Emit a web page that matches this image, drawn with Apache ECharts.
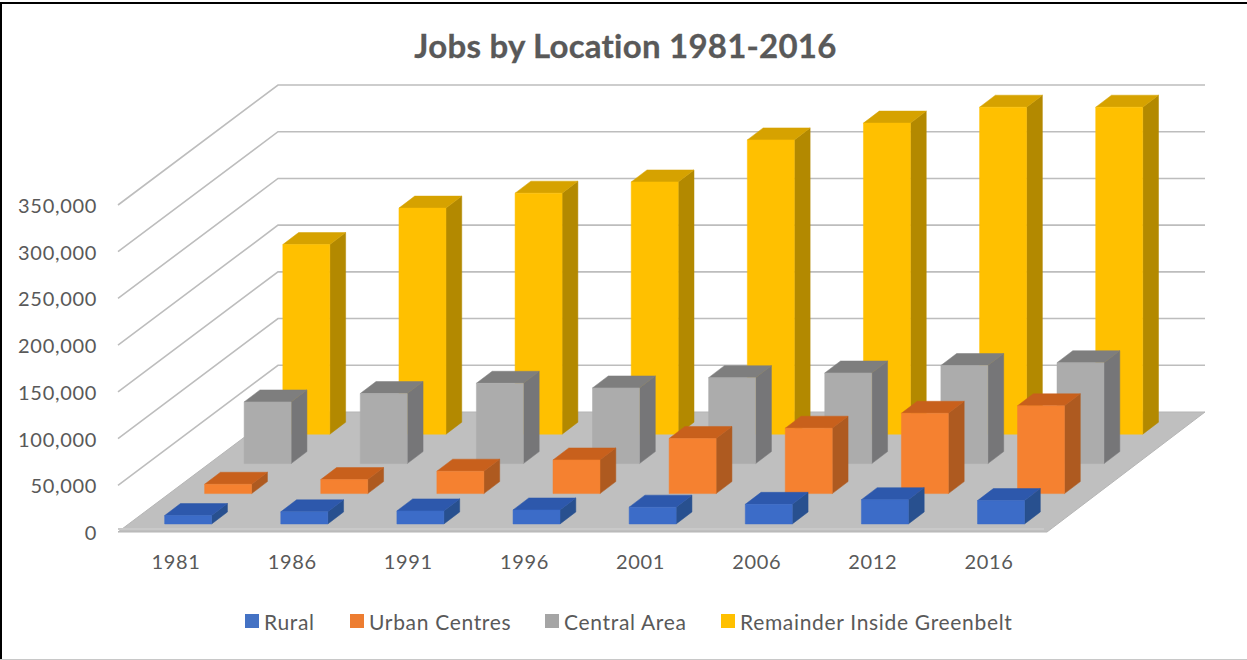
<!DOCTYPE html>
<html>
<head>
<meta charset="utf-8">
<style>
html,body{margin:0;padding:0;background:#fff}
#c{width:1247px;height:660px}
#c text{letter-spacing:.68px;font-variant-ligatures:none}
#c text[style*="bold"]{letter-spacing:.24px}
</style>
<script src="https://cdn.jsdelivr.net/npm/echarts@6/dist/echarts.min.js"></script>
</head>
<body>
<div id="c"></div>
<script>
var categories = ['1981','1986','1991','1996','2001','2006','2012','2016'];
var rural = [9000,13000,14000,15000,18000,21000,26000,25000];
var urbanCentres = [10000,15000,24000,36000,59000,70000,86000,94000];
var centralArea = [66000,75000,86000,81000,92000,97000,105000,108000];
var remainder = [203000,242000,258000,270000,315000,333000,350000,350000];
var yTicks = [0,50000,100000,150000,200000,250000,300000,350000];
var legendNames = ['Rural','Urban Centres','Central Area','Remainder Inside Greenbelt'];
var legendLefts = [240,345,540,716];

var DEPTH_X = 158, DEPTH_Y = 120, BAR_W = 47, BAR_D = 0.1, SHIFT = 1.5;
var FONT = 'Lato, "Open Sans", sans-serif';
var TXT = '#595959';

function pt(p, f){ return [p[0] + DEPTH_X * f, p[1] - DEPTH_Y * f]; }

function barRenderer(front, faces){
  return function(params, api){
    var i = api.value(0), v = api.value(1);
    var b = api.coord([i, 0]), t = api.coord([i, v]);
    var xl = b[0] + SHIFT - BAR_W / 2, xr = xl + BAR_W;
    var fb = pt([xl, b[1]], front), fb2 = pt([xr, b[1]], front);
    var ft = pt([xl, t[1]], front), ft2 = pt([xr, t[1]], front);
    var d = front + BAR_D;
    var bb2 = pt([xr, b[1]], d), bt = pt([xl, t[1]], d), bt2 = pt([xr, t[1]], d);
    function poly(points, fill){ return {type:'polygon', shape:{points:points}, style:{fill:fill, stroke:fill, lineWidth:0.5}}; }
    return {type:'group', children:[
      poly([fb2, bb2, bt2, ft2], faces[2]),
      poly([ft, ft2, bt2, bt], faces[1]),
      poly([fb, fb2, ft2, ft], faces[0])
    ]};
  };
}

function wallRenderer(params, api){
  var v = api.value(1);
  var cs = params.coordSys;
  var x0 = cs.x, x1 = cs.x + cs.width;
  var y = api.coord([0, v])[1];
  if (v === 0) {
    return {type:'group', children:[
      {type:'polygon', shape:{points:[[x0,y],[x1,y],[x1+DEPTH_X,y-DEPTH_Y],[x0+DEPTH_X+2,y-DEPTH_Y]]},
       style:{fill:'#BFBFBF', stroke:'#B5B5B5', lineWidth:1}},
      {type:'line', shape:{x1:x0,y1:y-3,x2:x1-3,y2:y-3}, style:{stroke:'#C9C9C9', lineWidth:2}}
    ]};
  }
  return {type:'polyline', shape:{points:[[x0,y],[x0+DEPTH_X+2,y-DEPTH_Y],[x1+DEPTH_X,y-DEPTH_Y]]},
    style:{fill:'none', stroke:'#BDBDBD', lineWidth:1.6}};
}

function rows(values){ return values.map(function(v,i){ return [i,v]; }); }

var option = {
  animation:false,
  backgroundColor:'#fff',
  title:{text:'Jobs by Location 1981-2016', left:620.5, textAlign:'center', top:23,
    textStyle:{fontFamily:FONT, fontWeight:'bold', fontSize:33, color:TXT, textBorderColor:TXT, textBorderWidth:0.3}},
  legend:legendNames.map(function(n,i){
    return {data:[n], left:legendLefts[i], top:605.5, icon:'rect', itemWidth:14, itemHeight:14,
      textStyle:{fontFamily:FONT, fontSize:21, color:TXT}};
  }),
  grid:{left:118, right:200, top:205, bottom:128},
  xAxis:{type:'category', data:categories, axisLine:{show:false}, axisTick:{show:false},
    axisLabel:{fontFamily:FONT, fontSize:20, color:TXT, margin:19}},
  yAxis:{type:'value', min:0, max:350000, interval:50000, splitLine:{show:false}, axisLine:{show:false}, axisTick:{show:false},
    axisLabel:{fontFamily:FONT, fontSize:20, color:TXT, margin:21,
      formatter:function(v){ return v.toLocaleString('en-US'); }}},
  graphic:[
    {type:'rect', shape:{x:0,y:2,width:1247,height:2}, style:{fill:'#000'}},
    {type:'rect', shape:{x:0,y:2,width:2,height:658}, style:{fill:'#000'}},
    {type:'rect', shape:{x:0,y:659,width:1247,height:1}, style:{fill:'#C8C8C8'}}
  ],
  series:[
    {type:'custom', name:'walls', silent:true, coordinateSystem:'cartesian2d', renderItem:wallRenderer,
     data:yTicks.map(function(v){ return [0,v]; }), encode:{x:0,y:1}, z:1},
    {type:'custom', name:'Remainder Inside Greenbelt', itemStyle:{color:'#FFC000'}, z:2,
     renderItem:barRenderer(0.815,['#FFC000','#D6A200','#B38900']), data:rows(remainder), encode:{x:0,y:1}},
    {type:'custom', name:'Central Area', itemStyle:{color:'#A5A5A5'}, z:3,
     renderItem:barRenderer(0.57,['#ACACAC','#7E7E7E','#767678']), data:rows(centralArea), encode:{x:0,y:1}},
    {type:'custom', name:'Urban Centres', itemStyle:{color:'#ED7D31'}, z:4,
     renderItem:barRenderer(0.32,['#F58130','#C8601C','#AE5A20']), data:rows(urbanCentres), encode:{x:0,y:1}},
    {type:'custom', name:'Rural', itemStyle:{color:'#4472C4'}, z:5,
     renderItem:barRenderer(0.067,['#3C6CC8','#2D58AC','#28508F']), data:rows(rural), encode:{x:0,y:1}}
  ]
};
var chart = echarts.init(document.getElementById('c'), null, {renderer:'svg'});
chart.setOption(option);
</script>
</body>
</html>
